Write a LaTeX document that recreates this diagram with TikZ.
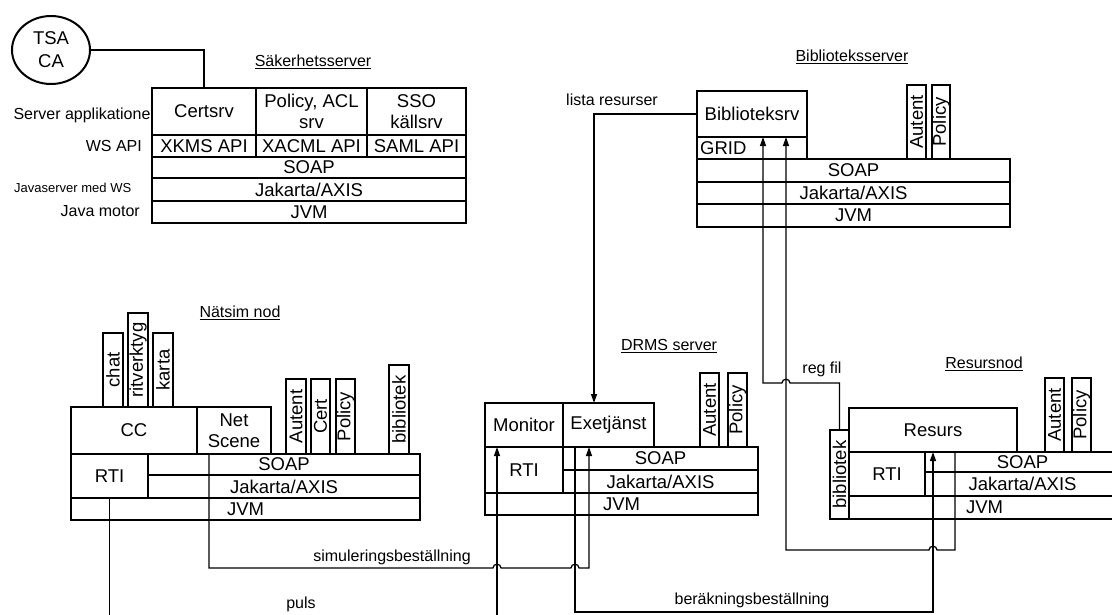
\documentclass[tikz,border=0pt]{standalone}
\usepackage{fontspec}
\setmainfont{Liberation Sans}
\usetikzlibrary{arrows.meta,shapes.geometric}

\tikzset{
  cell/.style={draw, line width=2pt, fill=white, inner sep=0pt, outer sep=0pt,
    anchor=north west, align=center, font=\fontsize{18.5}{21}\selectfont},
  sz/.style 2 args={minimum width=#1pt, minimum height=#2pt},
  vtext/.style={rotate=90, inner sep=0pt, font=\fontsize{18.5}{19}\selectfont},
  lbl/.style={inner sep=0pt, font=\fontsize{16}{18}\selectfont},
  link/.style={line width=1.3pt},
  hop/.style={to path={-- ([xshift=-4pt]\tikztotarget)
    .. controls +(0,5pt) and +(0,5pt) .. ([xshift=4pt]\tikztotarget)}},
  >={Triangle[length=9pt,width=6pt]}
}

\begin{document}
\begin{tikzpicture}[x=1pt,y=-1pt]
\useasboundingbox (0,0) rectangle (1112,614);
\clip (0,0) rectangle (1112,614);

% Säkerhetsserver
\node[lbl,anchor=east] (appL) at (156,115) {Server applikationer};
\node[lbl,anchor=east] (wsL) at (142,146) {WS API};
\node[lbl,anchor=west,font=\fontsize{13}{14}\selectfont] (javaL) at (14,188) {Javaserver med WS};
\node[lbl,anchor=east] (motorL) at (140,211) {Java motor};
\node[lbl] (sakL) at (313,62) {\underline{Säkerhetsserver}};
\node[draw,ellipse,line width=2pt,minimum width=78pt,minimum height=68pt,inner sep=0pt,
  align=center,font=\fontsize{18.5}{23}\selectfont] (tsa) at (51,50) {TSA\\CA};
\node[cell,sz={104}{47}] (certsrv) at (152,88) {Certsrv};
\node[cell,sz={111}{47}] (policysrv) at (256,88) {Policy, ACL\\srv};
\node[cell,sz={99}{47}] (ssosrv) at (367,88) {SSO\\källsrv};
\node[cell,sz={104}{22}] (xkms) at (152,135) {XKMS API};
\node[cell,sz={111}{22}] (xacml) at (256,135) {XACML API};
\node[cell,sz={99}{22}] (saml) at (367,135) {SAML API};
\node[cell,sz={314}{21}] (ssoap) at (152,157) {SOAP};
\node[cell,sz={314}{23}] (saxis) at (152,178) {Jakarta/AXIS};
\node[cell,sz={314}{22}] (sjvm) at (152,201) {JVM};
\draw[line width=2pt] (tsa.east) -| (certsrv.north);

% Biblioteksserver
\node[lbl] (bibL) at (852,57) {\underline{Biblioteksserver}};
\node[cell,sz={19}{74}] (bautent) at (907,85) {};
\node[vtext] at (bautent) {Autent};
\node[cell,sz={18}{74}] (bpolicy) at (932,85) {};
\node[vtext] at (bpolicy) {Policy};
\node[cell,sz={110}{46}] (biblsrv) at (697,91) {Biblioteksrv};
\node[cell,sz={110}{22}] (grid) at (697,137) {};
\node[anchor=west,inner sep=0pt,font=\fontsize{18.5}{21}\selectfont] (gridT) at ([xshift=3pt]grid.west) {GRID};
\node[cell,sz={313}{23}] (bsoap) at (697,159) {SOAP};
\node[cell,sz={313}{22}] (baxis) at (697,182) {Jakarta/AXIS};
\node[cell,sz={313}{23}] (bjvm) at (697,204) {JVM};

% Nätsim nod
\node[lbl] (natL) at (240,313) {\underline{Nätsim nod}};
\node[cell,sz={20}{74}] (chat) at (103,333) {};
\node[vtext] at (chat) {chat};
\node[cell,sz={20}{94}] (ritv) at (128,313) {};
\node[vtext] at (ritv) {ritverktyg};
\node[cell,sz={20}{74}] (karta) at (153,333) {};
\node[vtext] at (karta) {karta};
\node[cell,sz={20}{75}] (nautent) at (286,379) {};
\node[vtext] at (nautent) {Autent};
\node[cell,sz={19}{75}] (ncert) at (311,379) {};
\node[vtext] at (ncert) {Cert};
\node[cell,sz={19}{75}] (npolicy) at (336,379) {};
\node[vtext] at (npolicy) {Policy};
\node[cell,sz={20}{89}] (nbibl) at (389,365) {};
\node[vtext] at (nbibl) {bibliotek};
\node[cell,sz={126}{47}] (cc) at (71,407) {CC};
\node[cell,sz={74}{47}] (netscene) at (197,407) {Net\\Scene};
\node[cell,sz={77}{44}] (nrti) at (71,454) {RTI};
\node[cell,sz={272}{21}] (nsoap) at (148,454) {SOAP};
\node[cell,sz={272}{23}] (naxis) at (148,475) {Jakarta/AXIS};
\node[cell,sz={349}{22}] (njvm) at (71,498) {JVM};

% DRMS server
\node[lbl] (drmsL) at (669,346) {\underline{DRMS server}};
\node[cell,sz={19}{74}] (dautent) at (700,373) {};
\node[vtext] at (dautent) {Autent};
\node[cell,sz={19}{74}] (dpolicy) at (728,373) {};
\node[vtext] at (dpolicy) {Policy};
\node[cell,sz={78}{44}] (monitor) at (485,403) {Monitor};
\node[cell,sz={91}{44}] (exetj) at (563,403) {Exetjänst};
\node[cell,sz={78}{46}] (drti) at (485,447) {RTI};
\node[cell,sz={195}{23}] (dsoap) at (563,447) {SOAP};
\node[cell,sz={195}{23}] (daxis) at (563,470) {Jakarta/AXIS};
\node[cell,sz={273}{22}] (djvm) at (485,493) {JVM};

% Resursnod
\node[lbl] (resL) at (984,364) {\underline{Resursnod}};
\node[cell,sz={19}{74}] (rautent) at (1045,378) {};
\node[vtext] at (rautent) {Autent};
\node[cell,sz={19}{74}] (rpolicy) at (1072,378) {};
\node[vtext] at (rpolicy) {Policy};
\node[cell,sz={168}{44}] (resurs) at (849,408) {Resurs};
\node[cell,sz={19}{89}] (rbibl) at (830,430) {};
\node[vtext] at (rbibl) {bibliotek};
\node[cell,sz={76}{44}] (rrti) at (849,452) {RTI};
\node[cell,sz={195}{20}] (rsoap) at (925,452) {SOAP};
\node[cell,sz={195}{24}] (raxis) at (925,472) {Jakarta/AXIS};
\node[cell,sz={271}{23}] (rjvm) at (849,496) {JVM};

% connector points
\coordinate (gridA) at ([xshift=66pt]grid.north west);
\coordinate (gridB) at ([xshift=89pt]grid.north west);
\coordinate (exeTop) at ([xshift=31pt]exetj.north west);
\coordinate (exeIn) at ([xshift=26pt]exetj.south west);
\coordinate (exeOut) at ([xshift=12pt]exetj.south west);
\coordinate (monIn) at ([xshift=12pt]monitor.south west);
\coordinate (netOut) at ([xshift=12pt]netscene.south west);
\coordinate (resOut) at ([xshift=-62pt]resurs.south east);
\coordinate (j1) at (786,383);
\coordinate (j2) at (497,568);
\coordinate (j3) at (575,568);
\coordinate (j4) at (933,550);
\coordinate (bot) at (0,612);
\coordinate (pulsY) at (0,622);

% connectors
\draw[link,->] (biblsrv.west) -| (exeTop);
\draw[link,<-] (gridA) -- (gridA |- j1) to[hop] (j1) -| (rbibl.north);
\draw[link,<-] (gridB) -- (gridB |- j4) to[hop] (j4) -| (resOut);
\draw[link,->] (exeOut) -- (exeOut |- bot) -| (resurs.south);
\draw[link,->] (netOut) -- (netOut |- j2) to[hop] (j2) to[hop] (j3) -| (exeIn);
\draw[link,->] (nrti.south) -- (nrti.south |- pulsY) -| (monIn);

\node[lbl] (listaL) at (612,100) {lista resurser};
\node[lbl] (regL) at (822,369) {reg fil};
\node[lbl] (simL) at (392,557) {simuleringsbeställning};
\node[lbl] (berL) at (752,600) {beräkningsbeställning};
\node[lbl] (pulsL) at (301,604) {puls};
\end{tikzpicture}
\end{document}
